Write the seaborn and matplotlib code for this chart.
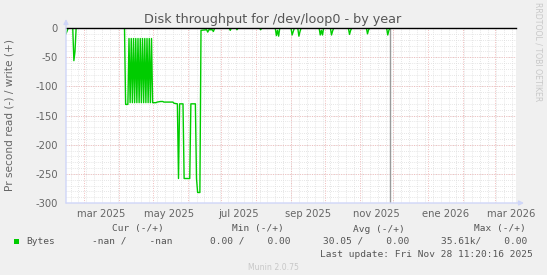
import matplotlib
matplotlib.use("Agg")
import matplotlib.pyplot as plt
from matplotlib.patches import Rectangle
import seaborn as sns

# ---------------- data ----------------
# days since 13 Feb 2025 (graph start), 400-day window
read_days = [0, 1, 2, 6, 7, 8, 9, 52, 53, 55,
             56, 57, 58, 59, 60, 61, 62, 63, 64, 65, 66, 67, 68, 69, 70, 71, 72, 73, 74, 75, 76, 77,
             80, 81, 84, 86, 87, 95, 96, 99, 100, 101, 104, 105, 110, 111, 115, 116, 117, 119, 120,
             125, 126, 127, 130, 131, 132, 133,
             145, 146, 147, 151, 152, 153, 172, 173, 174,
             186, 187, 188, 189, 190,
             200, 201, 202, 203,
             206, 207, 208, 209,
             225, 226, 227, 228, 229,
             235, 236, 237, 238,
             251, 252, 253, 254,
             267, 268, 269, 270,
             285, 286, 287, 288]
read_values = [-10, -5, 0, 0, -56, -40, 0, 0, -131, -131,
               -18, -128, -18, -128, -18, -128, -18, -128, -18, -128, -18, -128, -18, -128, -18, -128, -18, -128, -18, -128, -18, -128,
               -128, -127, -126, -126, -127, -127, -129, -130, -258, -130, -130, -258, -258, -130, -130, -258, -282, -282, -4,
               -3, -7, -3, -3, -6, -1, 0,
               0, -4, 0, 0, -3, 0, 0, -3, 0,
               0, -13, -4, -14, 0,
               0, -12, -6, 0,
               0, -14, -6, 0,
               0, -12, -4, -12, 0,
               0, -12, -5, 0,
               0, -11, -4, 0,
               0, -10, -3, 0,
               0, -12, -4, 0]
now_day = 287.6

month_start_days = [16, 47, 77, 108, 138, 169, 200, 230, 261, 291, 322, 353, 381]
label_days = [31, 92, 153, 215, 276, 337, 396]
label_texts = ["mar 2025", "may 2025", "jul 2025", "sep 2025", "nov 2025", "ene 2026", "mar 2026"]
first_monday = 4
y_ticks = [0, -50, -100, -150, -200, -250, -300]

legend_headers = ["Cur (-/+)", "Min (-/+)", "Avg (-/+)", "Max (-/+)"]
legend_values = ["-nan /    -nan", "0.00 /    0.00", "30.05 /    0.00", "35.61k/    0.00"]
series_name = "Bytes"
last_update = "Last update: Fri Nov 28 11:20:16 2025"

# ---------------- figure ----------------
W, H = 547, 275
fig = plt.figure(figsize=(W / 100, H / 100), dpi=100, facecolor="#F0F0F0")
L, T, R, B = 66, 28, 516, 203
ax = fig.add_axes([L / W, 1 - B / H, (R - L) / W, (B - T) / H])
ax.set_facecolor("white")

FONT = "#666666"
GRID = "#dedede"
MGRID = "#f0bcbc"
AXIS = "#CFD6F8"

ax.set_xlim(0, 400)
ax.set_ylim(-300, 0)

# grid
for d in range(first_monday, 400, 7):
    ax.axvline(d, color=GRID, lw=0.6, ls=(0, (1, 1.5)), zorder=0)
for v in range(-300, 0, 10):
    ax.axhline(v, color=GRID, lw=0.6, ls=(0, (1, 1.5)), zorder=0)
for d in month_start_days:
    ax.axvline(d, color=MGRID, lw=0.7, ls=(0, (1, 1.5)), zorder=0.5)
for v in y_ticks[1:-1]:
    ax.axhline(v, color=MGRID, lw=0.7, ls=(0, (1, 1.5)), zorder=0.5)

# data
sns.lineplot(x=read_days, y=read_values, ax=ax, color="#00cc00", linewidth=1,
             estimator=None, sort=False, legend=False, zorder=3)
ax.axvline(now_day, color="#999999", lw=1, zorder=2)
ax.axhline(0, color="black", lw=1, zorder=4, clip_on=False)

for s in ax.spines.values():
    s.set_visible(False)

ax.set_xticks(label_days)
ax.set_xticklabels(label_texts)
ax.set_yticks(y_ticks)
ax.set_yticklabels([str(v) for v in y_ticks])
ax.tick_params(axis="both", length=0, labelsize=7.2, labelcolor=FONT)
ax.tick_params(axis="x", pad=4)
ax.tick_params(axis="y", pad=6)
ax.set_xlabel("")
ax.set_ylabel("")

# axes with arrows
ax.annotate("", xy=(524, H - B), xytext=(L, H - B), xycoords="figure pixels",
            textcoords="figure pixels",
            arrowprops=dict(arrowstyle="-|>", color=AXIS, lw=1, mutation_scale=7,
                            shrinkA=0, shrinkB=0), zorder=5)
ax.annotate("", xy=(L, H - 19), xytext=(L, H - B), xycoords="figure pixels",
            textcoords="figure pixels",
            arrowprops=dict(arrowstyle="-|>", color=AXIS, lw=1, mutation_scale=7,
                            shrinkA=0, shrinkB=0), zorder=5)


def ftext(x, y, s, **kw):
    fig.text(x / W, 1 - y / H, s, **kw)


ftext(273, 19, "Disk throughput for /dev/loop0 - by year", ha="center", va="center",
      fontsize=9.2, color="#555555")
ftext(10, 115, "Pr second read (-) / write (+)", ha="center", va="center",
      rotation=90, fontsize=7.6, color=FONT)
ftext(538, 52, "RRDTOOL / TOBI OETIKER", ha="center", va="center", rotation=270,
      fontsize=5.6, color="#c8c8c8")

mono = dict(family="DejaVu Sans Mono", fontsize=6.8, color="#555555", va="center")
header_ends = [164, 284, 405, 526]
value_ends = [173, 291, 409, 527]
for xe, s in zip(header_ends, legend_headers):
    ftext(xe, 229, s, ha="right", **mono)
for xe, s in zip(value_ends, legend_values):
    ftext(xe, 241.5, s, ha="right", **mono)
ftext(26, 241.5, series_name, ha="left", **mono)
ftext(533, 254.5, last_update, ha="right", **mono)
fig.patches.append(Rectangle((14 / W, 1 - 244 / H), 5 / W, 5 / H, transform=fig.transFigure,
                             facecolor="#00cc00", edgecolor="none"))
ftext(273, 267, "Munin 2.0.75", ha="center", va="center", fontsize=5.6, color="#c8c8c8")

fig.savefig("out.png", dpi=100, facecolor=fig.get_facecolor())
